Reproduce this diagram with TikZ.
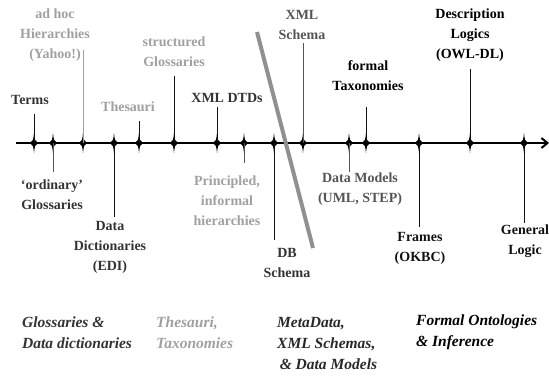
\documentclass[tikz,border=0pt]{standalone}
\usepackage{fontspec}
\setmainfont{Liberation Serif}
\usetikzlibrary{arrows.meta}
\definecolor{inkdark}{HTML}{333333}
\definecolor{inkmid}{HTML}{555555}
\definecolor{inklight}{HTML}{A0A0A0}
\definecolor{inkblack}{HTML}{111111}
\tikzset{
  toplabel/.style={inner sep=0pt, align=center, font=\fontsize{14bp}{20bp}\selectfont\bfseries},
  eralabel/.style={inner sep=0pt, align=left, anchor=west, font=\fontsize{15.5bp}{21bp}\selectfont\bfseries\itshape},
  stem/.style={line width=0.9bp},
  axisline/.style={line width=2.8bp, -{Straight Barb[length=6bp,width=10bp,line width=2bp]}},
  divider/.style={line width=4bp, color=inklight!90!black},
  pics/tickstar/.style={code={
    \fill (0,-10) .. controls (0.9,-2.2) .. (4.2,0) .. controls (0.9,2.2) .. (0,10)
          .. controls (-0.9,2.2) .. (-4.2,0) .. controls (-0.9,-2.2) .. cycle;}}
}
\begin{document}
\begin{tikzpicture}[x=1bp,y=-1bp]
\useasboundingbox (0,0) rectangle (549,380);

% main time axis
\coordinate (axisstart) at (16,143);
\coordinate (axisend) at (549,143);
\draw[axisline] (axisstart) -- (axisend);

% tick positions along the axis
\foreach \n/\x in {1/34,2/53,3/83,4/114,5/139,6/174,7/217,8/244,
                   9/274,10/303,11/349,12/366,13/419,14/470,15/524}{
  \coordinate (t\n) at (\x,143);
  \pic at (t\n) {tickstar};
}

% ends of the stems
\coordinate (s1) at (34,114);
\coordinate (s2) at (53,172);
\coordinate (s3) at (83,50);
\coordinate (s4) at (114,217);
\coordinate (s5) at (139,121);
\coordinate (s6) at (174,76);
\coordinate (s7) at (217,107);
\coordinate (s8) at (244,163);
\coordinate (s9) at (274,240);
\coordinate (s10) at (303,43);
\coordinate (s11) at (349,172);
\coordinate (s12) at (366,107);
\coordinate (s13) at (419,227);
\coordinate (s14) at (470,69);
\coordinate (s15) at (524,223);

\draw[stem, inkblack] (t1) -- (s1);
\draw[stem, inkmid] (t2) -- (s2);
\draw[stem, inklight] (t3) -- (s3);
\draw[stem, inkblack] (t4) -- (s4);
\draw[stem, inkblack] (t5) -- (s5);
\draw[stem, inkblack] (t6) -- (s6);
\draw[stem, inkblack] (t7) -- (s7);
\draw[stem, inkmid] (t8) -- (s8);
\draw[stem, inkblack] (t9) -- (s9);
\draw[stem, inkmid] (t10) -- (s10);
\draw[stem, inkmid] (t11) -- (s11);
\draw[stem, inkblack] (t12) -- (s12);
\draw[stem, inkblack] (t13) -- (s13);
\draw[stem, inkblack] (t14) -- (s14);
\draw[stem, inkblack] (t15) -- (s15);

% labels above the axis
\node[toplabel, text=inkdark] (terms) at (30,100) {Terms};
\node[toplabel, text=inklight] (adhoc) at (55,35) {ad hoc\\Hierarchies\\(Yahoo!)};
\node[toplabel, text=inklight] (thes) at (128,107) {Thesauri};
\node[toplabel, text=inklight] (structgl) at (174,52) {structured\\Glossaries};
\node[toplabel, text=inkdark] (xmldtd) at (227,98) {XML DTDs};
\node[toplabel, text=inkmid] (xmlschema) at (302,25) {XML\\Schema};
\node[toplabel, text=black] (formtax) at (368,76) {formal\\Taxonomies};
\node[toplabel, text=black] (desclog) at (470,35) {Description\\Logics\\(OWL-DL)};

% labels below the axis
\node[toplabel, text=inkdark] (ordgl) at (52,195) {‘ordinary’\\Glossaries};
\node[toplabel, text=inkdark] (datadict) at (110,247) {Data\\Dictionaries\\(EDI)};
\node[toplabel, text=inklight] (princ) at (227,201) {Principled,\\informal\\hierarchies};
\node[toplabel, text=inkdark] (dbschema) at (287,263) {DB\\Schema};
\node[toplabel, text=inkmid] (datamod) at (360,189) {Data Models\\(UML, STEP)};
\node[toplabel, text=inkblack] (frames) at (420,248) {Frames\\(OKBC)};
\node[toplabel, text=inkblack] (genlog) at (525,241) {General\\Logic};

% slanted divider
\coordinate (divtop) at (257,32);
\coordinate (divbot) at (313,248);
\draw[divider] (divtop) -- (divbot);

% eras along the bottom
\node[eralabel, text=inkdark] (era1) at (22,332.5) {Glossaries \&\\Data dictionaries};
\node[eralabel, text=inklight] (era2) at (156,332.5) {Thesauri,\\Taxonomies};
\node[eralabel, text=inkdark!80!black] (era3) at (277,343) {MetaData,\\XML Schemas,\\\,\& Data Models};
\node[eralabel, text=black] (era4) at (416,332.5) {Formal Ontologies\\\& Inference};
\end{tikzpicture}
\end{document}
